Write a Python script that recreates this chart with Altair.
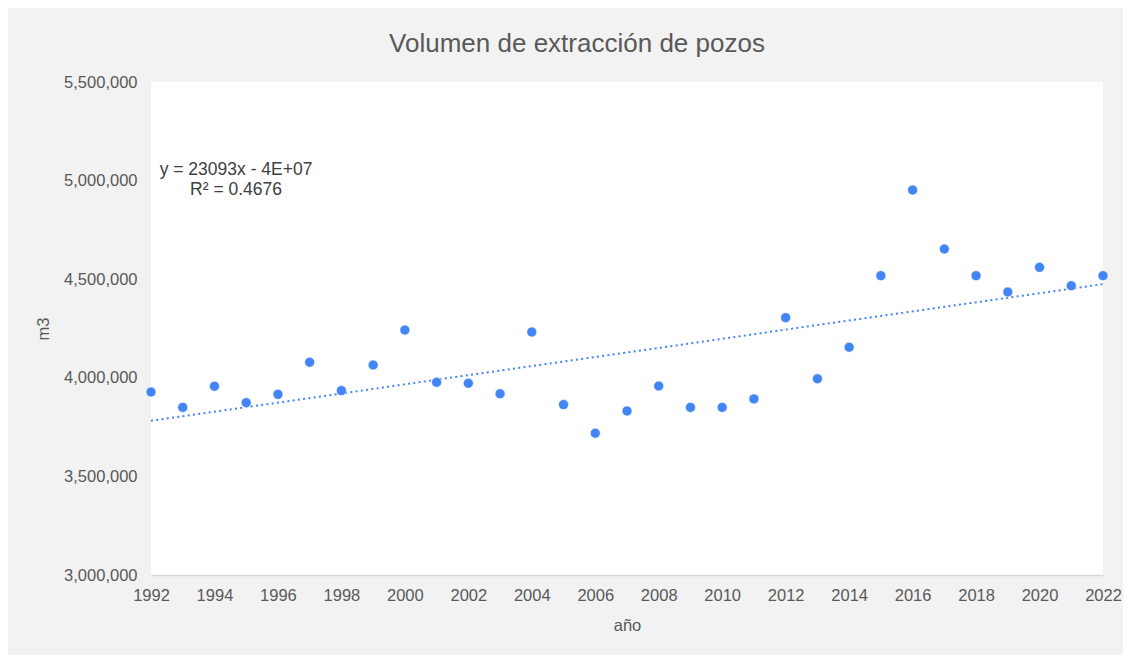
import altair as alt
import pandas as pd

years = list(range(1992, 2023))
values = [3928000, 3850000, 3957000, 3874000, 3916000, 4079000, 3935000, 4065000,
          4242000, 3977000, 3972000, 3919000, 4232000, 3864000, 3719000, 3832000,
          3958000, 3850000, 3850000, 3893000, 4305000, 3995000, 4155000, 4518000,
          4952000, 4653000, 4518000, 4435000, 4560000, 4467000, 4518000]

eq_text = ["y = 23093x - 4E+07\nR² = 0.4676"]
eq_year = [1994.68]
eq_value = [5053000]

df = pd.DataFrame({"año": years, "m3": values})
eq_df = pd.DataFrame({"año": eq_year, "m3": eq_value, "t": eq_text})

grey = "#595959"
blue = "#4285f4"

xs = alt.Scale(domain=[1992, 2022], nice=False, zero=False)
ys = alt.Scale(domain=[3000000, 5500000], nice=False, zero=False)

xaxis = alt.Axis(values=list(range(1992, 2023, 2)), format="d", grid=False, ticks=False,
                 domain=True, domainColor="#d9d9d9", domainWidth=1.5,
                 labelFontSize=16.5, labelColor=grey, labelPadding=12, labelFlush=False,
                 labelOverlap=False,
                 titleFontSize=16.5, titleColor=grey, titleFontWeight="normal", titlePadding=14,
                 labelFont="Liberation Sans", titleFont="Liberation Sans")
yaxis = alt.Axis(values=list(range(3000000, 5500001, 500000)), format=",d", grid=False,
                 ticks=False, domain=False, labelFontSize=16.5, labelColor=grey, labelPadding=14,
                 titleFontSize=16.5, titleColor=grey, titleFontWeight="normal", titlePadding=12,
                 labelFont="Liberation Sans", titleFont="Liberation Sans")

base = alt.Chart(df)

points = base.mark_circle(size=100, color=blue, opacity=1, stroke="white", strokeWidth=0.6).encode(
    x=alt.X("año:Q", scale=xs, axis=xaxis, title="año"),
    y=alt.Y("m3:Q", scale=ys, axis=yaxis, title="m3"),
)

trend = base.transform_regression("año", "m3", extent=[1992, 2022]).mark_line(
    color=blue, strokeWidth=2, strokeDash=[2, 3.3], strokeCap="butt"
).encode(x=alt.X("año:Q", scale=xs), y=alt.Y("m3:Q", scale=ys))

eq = alt.Chart(eq_df).mark_text(
    align="center", baseline="middle", fontSize=17.5, color="#404040",
    font="Liberation Sans", lineBreak="\n", lineHeight=20
).encode(x=alt.X("año:Q", scale=xs), y=alt.Y("m3:Q", scale=ys), text="t:N")

chart = alt.layer(trend, points, eq).properties(
    width=952, height=493,
    padding={"left": 143, "top": 74, "right": 20, "bottom": 80},
    autosize=alt.AutoSizeParams(type="none"),
    title=alt.TitleParams("Volumen de extracción de pozos", fontSize=26, color=grey,
                          font="Liberation Sans", fontWeight="normal", anchor="middle",
                          dx=-50, offset=17),
).configure(background="#f2f2f2").configure_view(stroke=None, fill="white")

chart.save("out.html", embed_options={"renderer": "svg", "actions": False})
